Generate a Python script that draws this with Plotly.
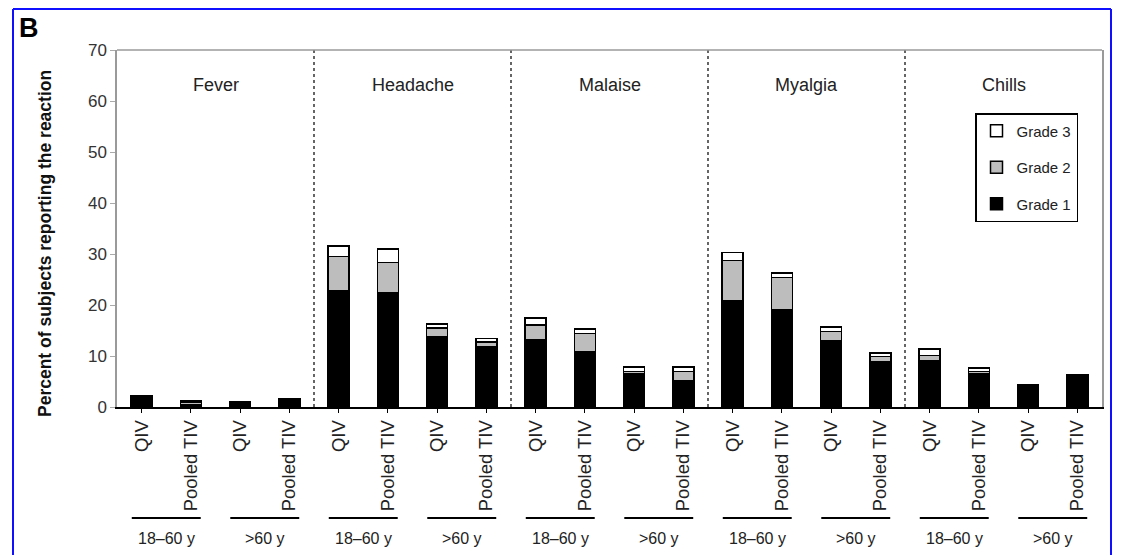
import plotly.graph_objects as go

reactions = ["Fever", "Headache", "Malaise", "Myalgia", "Chills"]
vaccines = ["QIV", "Pooled TIV", "QIV", "Pooled TIV"]
age_groups = ["18–60 y", ">60 y"]

# 20 bars: per reaction -> 18-60 QIV, 18-60 TIV, >60 QIV, >60 TIV
grade1 = [2.2, 0.5, 1.0, 1.6,
          22.8, 22.4, 13.8, 11.8,
          13.1, 10.8, 6.5, 5.2,
          20.8, 19.0, 13.0, 8.9,
          9.1, 6.5, 4.3, 6.3]
grade2 = [0.0, 0.4, 0.0, 0.0,
          6.7, 5.9, 1.7, 0.9,
          3.0, 3.6, 0.5, 1.8,
          7.9, 6.4, 1.8, 1.0,
          1.0, 0.5, 0.0, 0.0]
grade3 = [0.0, 0.3, 0.0, 0.0,
          2.1, 2.7, 0.8, 0.7,
          1.4, 0.9, 0.8, 0.8,
          1.6, 0.9, 0.9, 0.7,
          1.3, 0.6, 0.0, 0.0]

OFF = 8  # page body margin
W, H = 1121 - 2 * OFF, 555 - OFF
# plot area in reference-screen pixels
L, R, T, B = 117, 1102, 50, 407
PW, PH = R - L, B - T
FONT = "Liberation Sans, Arial, sans-serif"

def px(xp):
    return (xp - L) / PW

def py(yp):
    return (B - yp) / PH

n = len(grade1)
xs = list(range(n))
ticktext = [vaccines[i % 4] for i in range(n)]

fig = go.Figure()
line = dict(color="black", width=1.5)
for nm, vals, col, rank in [("Grade 1", grade1, "black", 3), ("Grade 2", grade2, "#bdbdbd", 2),
                            ("Grade 3", grade3, "white", 1)]:
    fig.add_trace(go.Bar(x=xs, y=vals, name=nm, legendgroup=nm, legendrank=rank,
                         marker=dict(color=col, line=line), width=0.43))

shapes = []
annotations = []
for k in range(1, len(reactions)):
    xd = k * 4 - 0.5
    shapes.append(dict(type="line", xref="x", yref="paper", x0=xd, x1=xd, y0=0, y1=1,
                       line=dict(color="black", width=1.2, dash="dot")))
shapes.append(dict(type="line", xref="paper", yref="paper", x0=0, x1=1, y0=1, y1=1,
                   line=dict(color="#9a9a9a", width=1.5)))
for k, r in enumerate(reactions):
    annotations.append(dict(text=r, x=k * 4 + 1.5, xref="x", y=py(85), yref="paper",
                            yanchor="middle", showarrow=False,
                            font=dict(size=18, color="#222", family=FONT)))
for k in range(len(reactions)):
    for g in range(2):
        c = k * 4 + g * 2 + 0.5
        shapes.append(dict(type="line", xref="x", yref="paper", x0=c - 0.7, x1=c + 0.7,
                           y0=py(518), y1=py(518), line=dict(color="black", width=2)))
        annotations.append(dict(text=age_groups[g], x=c, xref="x", y=py(538), yref="paper",
                                yanchor="middle", showarrow=False,
                                font=dict(size=16, color="#222", family=FONT)))
annotations.append(dict(text="<b>Percent of subjects reporting the reaction</b>", textangle=-90,
                        x=px(45), y=py(244), xref="paper", yref="paper", showarrow=False,
                        xanchor="center", yanchor="middle",
                        font=dict(size=17.5, color="#111", family=FONT)))
annotations.append(dict(text="<b>B</b>", x=px(29), y=py(28), xref="paper", yref="paper",
                        xanchor="center", yanchor="middle",
                        showarrow=False, font=dict(size=27, color="black", family=FONT)))
# blue frame (left, top, right edges)
blue = dict(color="#1010ff", width=2)
RX = 1111
shapes.append(dict(type="line", xref="paper", yref="paper", x0=px(13), x1=px(13),
                   y0=py(565), y1=py(9), line=blue))
shapes.append(dict(type="line", xref="paper", yref="paper", x0=px(13), x1=px(RX),
                   y0=py(9), y1=py(9), line=blue))
shapes.append(dict(type="line", xref="paper", yref="paper", x0=px(RX), x1=px(RX),
                   y0=py(565), y1=py(9), line=blue))

fig.update_layout(
    width=W, height=H,
    margin=dict(l=L - OFF, r=(W + OFF) - R, t=T - OFF, b=(H + OFF) - B, autoexpand=False),
    barmode="stack",
    plot_bgcolor="white", paper_bgcolor="white",
    font=dict(family=FONT, color="#222"),
    showlegend=True,
    legend=dict(x=px(975), y=py(113), xanchor="left", yanchor="top",
                traceorder="grouped", bordercolor="black", borderwidth=1.5,
                font=dict(size=15, color="#222"), bgcolor="white",
                tracegroupgap=14, itemwidth=30),
    shapes=shapes, annotations=annotations,
)
fig.update_xaxes(range=[-0.5, n - 0.5], tickmode="array", tickvals=xs, ticktext=ticktext,
                 tickangle=-90, tickfont=dict(size=18.5, color="#222"),
                 showline=True, linecolor="black", linewidth=1.5,
                 ticks="outside", ticklen=4, tickcolor="black", showgrid=False, zeroline=False)
fig.update_yaxes(range=[0, 70], dtick=10, tickfont=dict(size=17, color="#333"),
                 showline=True, linecolor="#9a9a9a", linewidth=1.5, mirror=True,
                 ticks="outside", ticklen=5, tickcolor="#aaa", showgrid=False, zeroline=False)

fig.write_html("out.html")
